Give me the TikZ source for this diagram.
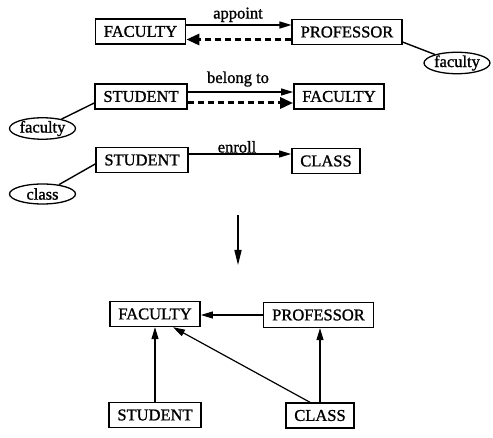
\documentclass[tikz,border=0pt]{standalone}
\usepackage{fontspec}
\setmainfont{Liberation Serif}[FakeBold=1.2]
\usetikzlibrary{arrows.meta,shapes.geometric}
\begin{document}
\begin{tikzpicture}[x=1pt,y=-1pt,
  font=\fontsize{16.5}{18}\selectfont,
  entity/.style={draw,line width=1.4pt,minimum height=25pt,inner xsep=8.5pt,inner ysep=0pt},
  attr/.style={draw,ellipse,line width=1.3pt,minimum width=66pt,minimum height=20pt,inner sep=0pt},
  link/.style={line width=1.4pt},
  rel/.style={line width=1.2pt,-{Triangle[length=12pt,width=7pt]}},
  derived/.style={line width=3pt,dash pattern=on 6pt off 4pt,-{Triangle[length=13pt,width=11pt]}},
  lbl/.style={anchor=base,inner sep=0pt}]
\useasboundingbox (0,0) rectangle (493,438);

% upper part: relationships between entities
\node[entity] (fac1) at (140.5,31.5) {FACULTY};
\node[entity] (prof1) at (347,32) {PROFESSOR};
\node[attr] (attr1) at (457,63) {faculty};
\draw[rel] ([yshift=6.5pt]fac1.east) -- ([yshift=6.5pt]fac1.east -| prof1.west);
\draw[derived] ([yshift=-7.5pt]prof1.west) -- ([yshift=-7.5pt]prof1.west -| fac1.east);
\draw[link] ([yshift=-10pt]prof1.east) -- (attr1);
\node[lbl] (lbl1) at (238,18.5) {appoint};

\node[entity] (stu2) at (141,96.5) {STUDENT};
\node[entity] (fac2) at (339,96.5) {FACULTY};
\node[attr] (attr2) at (42.5,128.5) {faculty};
\draw[rel] ([yshift=4.5pt]stu2.east) -- ([yshift=4.5pt]stu2.east -| fac2.west);
\draw[derived] ([yshift=-6.5pt]stu2.east) -- ([yshift=-6.5pt]stu2.east -| fac2.west);
\draw[link] ([yshift=-6.5pt]stu2.west) -- (attr2);
\node[lbl] (lbl2) at (238,83) {belong to};

\node[entity] (stu3) at (142,160) {STUDENT};
\node[entity] (cls3) at (326,161) {CLASS};
\node[attr] (attr3) at (42.5,194) {class};
\draw[rel] ([yshift=6pt]stu3.east) -- ([yshift=6pt]stu3.east -| cls3.west);
\draw[link] ([yshift=-4pt]stu3.west) -- (attr3);
\node[lbl] (lbl3) at (237,152.5) {enroll};

% transformation arrow
\coordinate (down1) at (238,215);
\coordinate (down2) at (238,265);
\draw[line width=1.3pt,-{Triangle[length=15pt,width=7pt]}] (down1) -- (down2);

% lower part: resulting hierarchy
\node[entity] (fac4) at (155,314) {FACULTY};
\node[entity] (prof4) at (318.5,315) {PROFESSOR};
\node[entity] (stu4) at (155,415) {STUDENT};
\node[entity] (cls4) at (320,415.5) {CLASS};
\draw[rel] (prof4.west) -- (prof4.west -| fac4.east);
\draw[rel] (stu4.north) -- (fac4.south);
\draw[rel] (cls4.north) -- (cls4.north |- prof4.south);
\draw[rel] ([xshift=-10pt]cls4.north) -- ([xshift=18pt]fac4.south);
\end{tikzpicture}
\end{document}
